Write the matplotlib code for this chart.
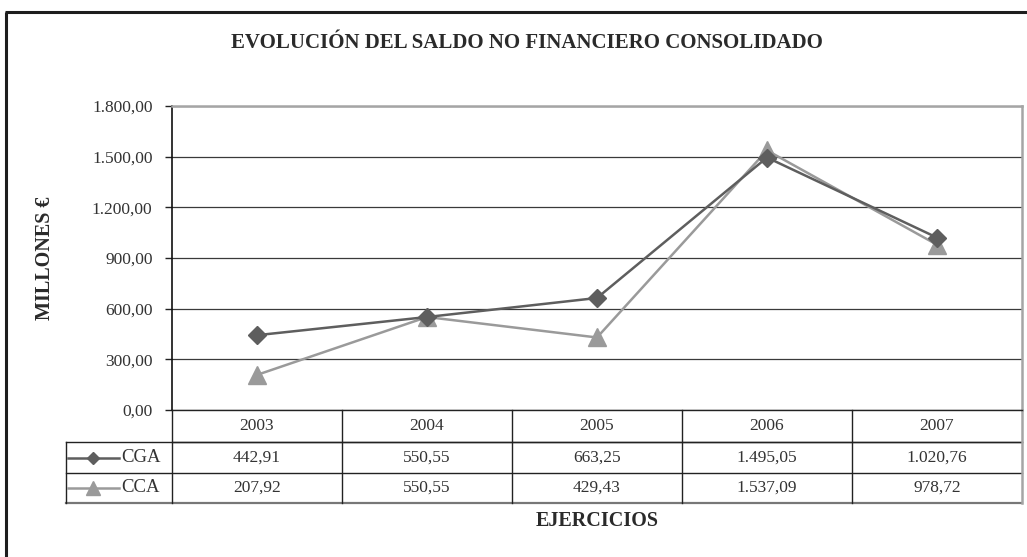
import matplotlib
matplotlib.use("Agg")
import matplotlib.pyplot as plt
from matplotlib.lines import Line2D
from matplotlib.transforms import blended_transform_factory

# ---- data ----
years = ["2003", "2004", "2005", "2006", "2007"]
cga = [442.91, 550.55, 663.25, 1495.05, 1020.76]
cca = [207.92, 550.55, 429.43, 1537.09, 978.72]
cga_labels = ["442,91", "550,55", "663,25", "1.495,05", "1.020,76"]
cca_labels = ["207,92", "550,55", "429,43", "1.537,09", "978,72"]
yticks = [0, 300, 600, 900, 1200, 1500, 1800]
ytick_labels = ["0,00", "300,00", "600,00", "900,00", "1.200,00", "1.500,00", "1.800,00"]
series_names = ["CGA", "CCA"]

plt.rcParams['font.family'] = ['Liberation Serif', 'DejaVu Serif']

W, H = 1027, 557
fig = plt.figure(figsize=(W / 100, H / 100), dpi=100)
fig.patch.set_facecolor("white")

# outer frame (left and top visible; extends beyond image right/bottom)
fig.add_artist(Line2D([5.5 / W, 5.5 / W], [-0.01, 1 - 11.5 / H], transform=fig.transFigure,
                      color="#1e1e1e", lw=2.2, solid_capstyle="butt"))
fig.add_artist(Line2D([4.5 / W, 1.01], [1 - 11.5 / H, 1 - 11.5 / H], transform=fig.transFigure,
                      color="#1e1e1e", lw=2.2, solid_capstyle="butt"))

left, right, top, bottom = 172, 1022, 106, 410
ax = fig.add_axes([left / W, 1 - bottom / H, (right - left) / W, (bottom - top) / H])

x = list(range(len(years)))
c_cga = "#5e5e5e"
c_cca = "#9a9a9a"
ax.plot(x, cga, color=c_cga, lw=1.8, marker="D", ms=9, mfc=c_cga, mec=c_cga, zorder=4)
ax.plot(x, cca, color=c_cca, lw=1.8, marker="^", ms=13, mfc=c_cca, mec=c_cca, zorder=3)

ax.set_xlim(-0.5, len(years) - 0.5)
ax.set_ylim(0, 1800)
ax.set_yticks(yticks)
ax.set_yticklabels(ytick_labels, fontsize=12.5, color="#333333")
ax.set_xticks([])
ax.tick_params(axis="y", direction="out", length=5, width=1, color="#222222", pad=9)
ax.yaxis.grid(True, color="#3a3a3a", lw=0.9)
ax.set_axisbelow(True)
for s in ["top", "right"]:
    ax.spines[s].set_color("#a5a5a5")
    ax.spines[s].set_linewidth(1.8)
ax.spines["left"].set_color("#111111")
ax.spines["left"].set_linewidth(1.2)
ax.spines["bottom"].set_color("#222222")
ax.spines["bottom"].set_linewidth(1.0)

# ---- data table below axes ----
ph = bottom - top  # axes height px
def ay(px):  # pixel y (from top of figure) -> axes fraction
    return (bottom - px) / ph

tr = blended_transform_factory(ax.transData, ax.transAxes)
r0, r1, r2, r3 = ay(410), ay(442), ay(473), ay(503)
x_tab_left = -0.5 - (172 - 65.7) / 170.0
xr = len(years) - 0.5

def hline(x0, x1, y, color="#222222", lw=1.0):
    ax.add_line(Line2D([x0, x1], [y, y], transform=tr, color=color, lw=lw, clip_on=False))

def vline(xx, y0, y1, color="#222222", lw=1.0):
    ax.add_line(Line2D([xx, xx], [y0, y1], transform=tr, color=color, lw=lw, clip_on=False))

hline(-0.5, xr, r1)
hline(x_tab_left, xr, r1)
hline(x_tab_left, xr, r2)
hline(x_tab_left, xr, r3, color="#777777", lw=1.6)
vline(x_tab_left, r1, r3)
for i in range(len(years) + 1):
    vline(i - 0.5, r0, r3, color="#222222" if i < len(years) else "#a5a5a5",
          lw=1.0 if i < len(years) else 1.8)

fs_tab = 12.5
for i, yv in enumerate(years):
    ax.text(i, (r0 + r1) / 2, yv, transform=tr, ha="center", va="center", fontsize=fs_tab, color="#333333")
    ax.text(i, (r1 + r2) / 2, cga_labels[i], transform=tr, ha="center", va="center", fontsize=fs_tab, color="#333333")
    ax.text(i, (r2 + r3) / 2, cca_labels[i], transform=tr, ha="center", va="center", fontsize=fs_tab, color="#333333")

# legend keys in the table
kx0 = -0.5 - (172 - 68) / 170.0
kx1 = -0.5 - (172 - 119) / 170.0
kxm = (kx0 + kx1) / 2
ktx = -0.5 - (172 - 121) / 170.0
for (yc, col, mk, ms, name) in [((r1 + r2) / 2, c_cga, "D", 6.5, series_names[0]),
                                ((r2 + r3) / 2, c_cca, "^", 10, series_names[1])]:
    ax.add_line(Line2D([kx0, kx1], [yc, yc], transform=tr, color=col, lw=1.8, clip_on=False))
    ax.add_line(Line2D([kxm], [yc], transform=tr, color=col, marker=mk, ms=ms, mfc=col, mec=col,
                       lw=0, clip_on=False))
    ax.text(ktx, yc, name, transform=tr, ha="left", va="center", fontsize=13.5, color="#333333")

# titles
fig.text(527 / W, 1 - 43 / H, "EVOLUCIÓN DEL SALDO NO FINANCIERO CONSOLIDADO",
         ha="center", va="center", fontsize=15, fontweight="bold", color="#2a2a2a")
fig.text(45 / W, 1 - 258 / H, "MILLONES €", ha="center", va="center", rotation=90,
         fontsize=14.5, fontweight="bold", color="#2a2a2a")
fig.text(597 / W, 1 - 521 / H, "EJERCICIOS", ha="center", va="center",
         fontsize=14.5, fontweight="bold", color="#2a2a2a")

fig.savefig("out.png", dpi=100, facecolor="white")
